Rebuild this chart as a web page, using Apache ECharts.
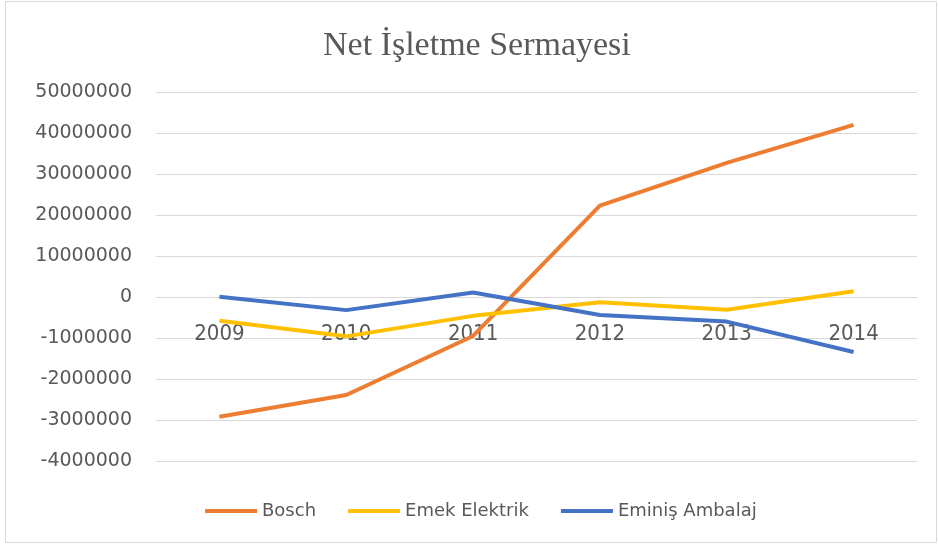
<!DOCTYPE html>
<html>
<head>
<meta charset="utf-8">
<script src="https://cdn.jsdelivr.net/npm/echarts@6/dist/echarts.min.js"></script>
<style>html,body{margin:0;padding:0;background:#fff}#c{width:938px;height:545px}</style>
</head>
<body>
<div id="c"></div>
<script>
var categories = ['2009', '2010', '2011', '2012', '2013', '2014'];
var bosch = [-29200000, -23900000, -9500000, 22300000, 32700000, 42000000];
var emekElektrik = [-5800000, -9600000, -4600000, -1300000, -3100000, 1400000];
var eminisAmbalaj = [50000, -3200000, 1100000, -4400000, -6000000, -13400000];
var yTickValues = [50000000, 40000000, 30000000, 20000000, 10000000, 0, -10000000, -20000000, -30000000, -40000000];
var yTickLabels = ['50000000', '40000000', '30000000', '20000000', '10000000', '0', '-1000000', '-2000000', '-3000000', '-4000000'];

var chart = echarts.init(document.getElementById('c'));
chart.setOption({
  animation: false,
  backgroundColor: '#fff',
  graphic: [{
    type: 'rect', shape: {x: 5.5, y: 1.5, width: 931, height: 541},
    style: {fill: 'none', stroke: '#d9d9d9', lineWidth: 1}, silent: true
  }],
  title: {
    text: 'Net İşletme Sermayesi', left: 318, top: 24,
    textStyle: {fontFamily: 'Liberation Serif', fontSize: 34, fontWeight: 'normal', color: '#595959'}
  },
  grid: {left: 156, right: 21, top: 92, bottom: 84, containLabel: false},
  legend: {
    left: 200, top: 497, itemWidth: 52, itemHeight: 4, itemGap: 32, icon: 'rect',
    textStyle: {fontFamily: 'DejaVu Sans', fontSize: 18, color: '#595959'},
    data: ['Bosch', 'Emek Elektrik', 'Eminiş Ambalaj']
  },
  xAxis: {
    type: 'category', data: categories, boundaryGap: true, offset: -164,
    axisLine: {show: true, onZero: false, lineStyle: {color: '#d9d9d9', width: 1}}, axisTick: {show: false},
    axisLabel: {margin: 26, fontFamily: 'DejaVu Sans Condensed', fontSize: 22, color: '#595959'}
  },
  yAxis: {
    type: 'value', min: -40000000, max: 50000000, interval: 10000000,
    axisLine: {show: false}, axisTick: {show: false},
    splitLine: {lineStyle: {color: '#d9d9d9', width: 1}},
    axisLabel: {
      margin: 24, fontFamily: 'DejaVu Sans', fontSize: 19, color: '#595959',
      formatter: function (v) { var i = yTickValues.indexOf(v); return i >= 0 ? yTickLabels[i] : ''; }
    }
  },
  series: [
    {name: 'Bosch', type: 'line', data: bosch, symbol: 'none', lineStyle: {width: 4, color: '#ED7D31'}, itemStyle: {color: '#ED7D31'}},
    {name: 'Emek Elektrik', type: 'line', data: emekElektrik, symbol: 'none', lineStyle: {width: 4, color: '#FFC000'}, itemStyle: {color: '#FFC000'}},
    {name: 'Eminiş Ambalaj', type: 'line', data: eminisAmbalaj, symbol: 'none', lineStyle: {width: 4, color: '#4472C4'}, itemStyle: {color: '#4472C4'}}
  ]
});
</script>
</body>
</html>
